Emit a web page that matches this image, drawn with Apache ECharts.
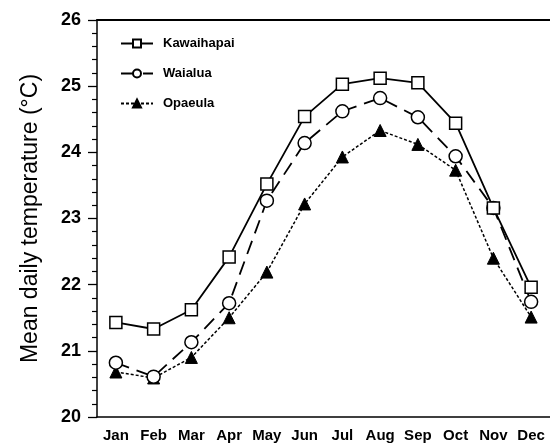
<!DOCTYPE html>
<html>
<head>
<meta charset="utf-8">
<script src="https://cdn.jsdelivr.net/npm/echarts@6/dist/echarts.min.js"></script>
<style>
  html, body { margin: 0; padding: 0; background: #fff; }
  #chart { width: 550px; height: 448px; }
</style>
</head>
<body>
<div id="chart"></div>
<script>
  // months on the x axis
  var months = ['Jan', 'Feb', 'Mar', 'Apr', 'May', 'Jun', 'Jul', 'Aug', 'Sep', 'Oct', 'Nov', 'Dec'];
  // mean daily temperature per station
  var kawaihapai = [21.43, 21.33, 21.62, 22.42, 23.52, 24.54, 25.03, 25.12, 25.05, 24.44, 23.16, 21.96];
  var waialua = [20.82, 20.61, 21.13, 21.72, 23.27, 24.14, 24.62, 24.82, 24.53, 23.94, 23.16, 21.74];
  var opaeula = [20.68, 20.59, 20.9, 21.5, 22.19, 23.22, 23.93, 24.33, 24.12, 23.73, 22.4, 21.51];

  var font = 'Liberation Sans, Arial, sans-serif';
  var myChart = echarts.init(document.getElementById('chart'));

  var option = {
    animation: false,
    backgroundColor: '#fff',
    grid: { left: 97, top: 20, bottom: 31, right: -3 },
    legend: {
      orient: 'vertical',
      left: 115,
      top: 32,
      itemWidth: 32,
      itemHeight: 10,
      itemGap: 17,
      textStyle: { fontFamily: font, fontWeight: 'bold', fontSize: 13, color: '#000', padding: [0, 0, 0, 5] },
      data: ['Kawaihapai', 'Waialua', 'Opaeula']
    },
    xAxis: [
      {
        type: 'category',
        data: months,
        axisLine: { lineStyle: { color: '#000', width: 1.5 } },
        axisTick: { length: 8, lineStyle: { color: '#000', width: 1.3 } },
        axisLabel: { color: '#000', fontFamily: font, fontWeight: 'bold', fontSize: 15, margin: 11, interval: 0 }
      },
      {
        type: 'category',
        position: 'top',
        data: months,
        axisLine: { lineStyle: { color: '#000', width: 2 } },
        axisTick: { show: false },
        axisLabel: { show: false }
      }
    ],
    yAxis: {
      type: 'value',
      min: 20,
      max: 26,
      interval: 1,
      name: 'Mean daily temperature (°C)',
      nameLocation: 'middle',
      nameGap: 55,
      nameTextStyle: { color: '#000', fontFamily: font, fontSize: 23 },
      axisLine: { show: true, lineStyle: { color: '#000', width: 1.5 } },
      axisTick: { show: true, length: 9, lineStyle: { color: '#000', width: 1.3 } },
      minorTick: { show: true, splitNumber: 5, length: 5, lineStyle: { color: '#000', width: 1.2 } },
      splitLine: { show: false },
      axisLabel: { color: '#000', fontFamily: font, fontWeight: 'bold', fontSize: 18, margin: 16 }
    },
    series: [
      {
        name: 'Kawaihapai',
        type: 'line',
        data: kawaihapai,
        symbol: 'rect',
        symbolSize: 12,
        z: 4,
        lineStyle: { color: '#000', width: 1.8, type: 'solid' },
        itemStyle: { color: '#fff', borderColor: '#000', borderWidth: 1.5 }
      },
      {
        name: 'Waialua',
        type: 'line',
        data: waialua,
        symbol: 'circle',
        symbolSize: 13,
        z: 3,
        lineStyle: { color: '#000', width: 1.8, type: [14, 8] },
        itemStyle: { color: '#fff', borderColor: '#000', borderWidth: 1.5 }
      },
      {
        name: 'Opaeula',
        type: 'line',
        data: opaeula,
        symbol: 'triangle',
        symbolSize: 12,
        z: 2,
        lineStyle: { color: '#000', width: 1.5, type: [3, 2] },
        itemStyle: { color: '#000', borderColor: '#000', borderWidth: 1 }
      }
    ]
  };
  myChart.setOption(option);
</script>
</body>
</html>
